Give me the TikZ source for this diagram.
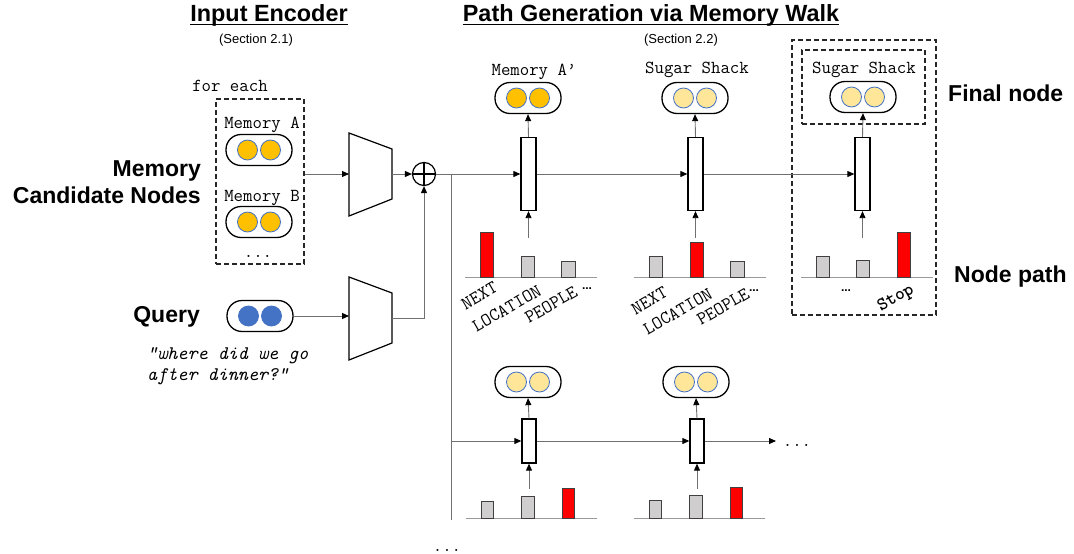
\documentclass[tikz,border=0pt]{standalone}
\usepackage{fontspec}
\setmainfont{Liberation Sans}
\newfontfamily\stopfont{lmmonolt10-bold.otf}
\usetikzlibrary{arrows.meta}
\definecolor{orng}{HTML}{FFC000}
\definecolor{lyel}{HTML}{FFE699}
\definecolor{qblue}{HTML}{4472C4}
\definecolor{linegray}{HTML}{707070}
\definecolor{bargray}{HTML}{D0CECE}
\definecolor{bardark}{HTML}{404040}
\definecolor{basegray}{HTML}{9A9A9A}
\newcommand\mkpill[4]{%
  \node[pillbox] (#1) at (#2,#3) {};
  \node[dot, fill=#4] (#1a) at ([xshift=-11.5pt]#1.center) {};
  \node[dot, fill=#4] (#1b) at ([xshift=11.5pt]#1.center) {};
}
\begin{document}
\begin{tikzpicture}[x=1pt,y=-1pt,
  conn/.style={draw=linegray, line width=0.9pt},
  arr/.style={conn, -{Triangle[length=7pt,width=6pt,color=black]}},
  cell/.style={draw=black, line width=1.3pt, fill=white, minimum width=15pt, minimum height=73pt, inner sep=0pt},
  cellb/.style={cell, minimum width=14pt, minimum height=44pt},
  pillbox/.style={draw=black, line width=1.3pt, rounded corners=15pt, minimum width=66pt, minimum height=31pt, inner sep=0pt, fill=white},
  dot/.style={circle, draw=qblue, line width=0.8pt, minimum size=20pt, inner sep=0pt},
  bigbold/.style={font=\fontsize{23}{27}\selectfont\bfseries, inner sep=0pt},
  titlef/.style={font=\fontsize{23.4}{27}\selectfont\bfseries, inner sep=0pt, anchor=base},
  secf/.style={font=\fontsize{13}{15}\selectfont, inner sep=0pt},
  mono/.style={font=\ttfamily\fontsize{18.3}{21}\selectfont, inner sep=0pt},
  rotlab/.style={font=\ttfamily\fontsize{18.5}{21}\selectfont, inner sep=0pt, rotate=30, anchor=north east},
  smalldots/.style={font=\fontsize{12}{14}\selectfont\bfseries, inner sep=0pt},
  barg/.style={draw=bardark, line width=1pt, fill=bargray},
  barr/.style={draw=bardark, line width=1pt, fill=red},
  baseln/.style={draw=basegray, line width=1pt},
  dbox/.style={draw=black!85, line width=1.1pt, dash pattern=on 5pt off 3pt},
  encoder/.style={draw=black, line width=1.2pt, fill=white}
]
\useasboundingbox (0,0) rectangle (1074,554);

% ---------- titles ----------
\node[titlef] (t1) at (269,21.5) {Input Encoder};
\draw[line width=1.8pt] ([yshift=-3pt]t1.base west) -- ([yshift=-3pt]t1.base east);
\node[secf] (s1) at (256,40) {(Section 2.1)};
\node[titlef] (t2) at (651,21.5) {Path Generation via Memory Walk};
\draw[line width=1.8pt] ([yshift=-3pt]t2.base west) -- ([yshift=-3pt]t2.base east);
\node[secf] (s2) at (681,40) {(Section 2.2)};

% ---------- left labels ----------
\node[bigbold, anchor=base east] (lm1) at (201,176) {Memory};
\node[bigbold, anchor=base east] (lm2) at (201,203) {Candidate Nodes};
\node[bigbold, anchor=base east] (lq) at (200,322) {Query};
\node[bigbold, anchor=base west] (lf) at (948,101) {Final node};
\node[bigbold, anchor=base west] (lnp) at (954,282) {Node path};

% ---------- memory candidates ----------
\node[mono, anchor=base] (fe) at (230,91.5) {for each};
\node[dbox, minimum width=88pt, minimum height=165pt, inner sep=0pt] (cand) at (260,181.5) {};
\node[mono, anchor=base] (lma) at (262,128) {Memory A};
\mkpill{mema}{259}{150}{orng}
\node[mono, anchor=base] (lmb) at (262,201.5) {Memory B};
\mkpill{memb}{259}{222}{orng}
\node[mono, anchor=base] (cdots) at (258,257) {...};

% ---------- query ----------
\mkpill{qry}{260}{316}{qblue}
\node[font=\ttfamily\itshape\fontsize{19.2}{21}\selectfont, inner sep=0pt, anchor=base west] (qt1) at (147,359) {“where did we go};
\node[font=\ttfamily\itshape\fontsize{19.2}{21}\selectfont, inner sep=0pt, anchor=base west] (qt2) at (147,380) {after dinner?”};

% ---------- encoders ----------
\draw[encoder] (349,133) -- (392,149) -- (392,199) -- (349,216) -- cycle;
\draw[encoder] (349,277) -- (392,293) -- (392,343) -- (349,360) -- cycle;
\coordinate (enc1in) at (349,174);
\coordinate (enc1out) at (392,174);
\coordinate (enc2in) at (349,316);
\coordinate (enc2out) at (392,318);
\node[circle, draw=black, line width=1.2pt, minimum size=23pt, inner sep=0pt] (op) at (424,174) {};
\draw[line width=1.2pt] (op.north) -- (op.south) (op.west) -- (op.east);

\draw[arr] (cand.east |- enc1in) -- (enc1in);
\draw[arr] (enc1out) -- (op.west);
\draw[arr] (qry.east |- enc2in) -- (enc2in);
\draw[arr] (enc2out) -| (op.south);

% ---------- top row ----------
\node[cell] (c1) at (528.5,174) {};
\node[cell] (c2) at (695.5,174) {};
\node[cell] (c3) at (862.5,174) {};
\mkpill{p1}{528}{98}{orng}
\mkpill{p2}{695}{98}{lyel}
\mkpill{p3}{863}{97}{lyel}
\node[mono, anchor=base] (lp1) at (534,75) {Memory A’};
\node[mono, anchor=base] (lp2) at (697,73) {Sugar Shack};
\node[mono, anchor=base] (lp3) at (864,73) {Sugar Shack};
\node[dbox, minimum width=123pt, minimum height=74pt, inner sep=0pt] (fbox) at (863.5,87) {};
\node[dbox, minimum width=144pt, minimum height=275pt, inner sep=0pt] (pbox) at (864,177.5) {};

\draw[arr] (op.east) -- (c1.west);
\draw[arr] (c1.east) -- (c2.west);
\draw[arr] (c2.east) -- (c3.west);
\draw[arr] (c1.north) -- (p1.south);
\draw[arr] (c2.north) -- (p2.south);
\draw[arr] (c3.north) -- (p3.south);

\coordinate (a1) at (528.5,238);
\coordinate (a2) at (695.5,238);
\coordinate (a3) at (862.5,238);
\draw[arr] (a1) -- (c1.south);
\draw[arr] (a2) -- (c2.south);
\draw[arr] (a3) -- (c3.south);

% chart 1
\draw[baseln] (465,277) -- (597,277);
\draw[barr] (480,277) rectangle (493,232);
\draw[barg] (521,277) rectangle (534,256);
\draw[barg] (561,277) rectangle (575,261);
\node[rotlab] (n1a) at (493,281) {NEXT};
\node[rotlab] (n1b) at (537,284) {LOCATION};
\node[rotlab] (n1c) at (573,285) {PEOPLE};
\node[smalldots] (n1d) at (587,289) {...};
% chart 2
\draw[baseln] (634,277) -- (766,277);
\draw[barg] (649,277) rectangle (662,256);
\draw[barr] (690,277) rectangle (703,242);
\draw[barg] (730,277) rectangle (744,261);
\node[rotlab] (n2a) at (663,286) {NEXT};
\node[rotlab] (n2b) at (708,287) {LOCATION};
\node[rotlab] (n2c) at (745,287) {PEOPLE};
\node[smalldots] (n2d) at (754,291) {...};
% chart 3
\draw[baseln] (801,277) -- (933,277);
\draw[barg] (816,277) rectangle (829,256);
\draw[barg] (856,277) rectangle (869,260);
\draw[barr] (897,277) rectangle (910,232);
\node[smalldots] (n3d) at (846,291) {...};
\node[font=\stopfont\fontsize{18.5}{21}\selectfont, inner sep=0pt, rotate=30, anchor=north east] (n3s) at (909,282) {Stop};

% ---------- branch & bottom row ----------
\coordinate (br1) at (451,174);
\coordinate (br2) at (451,520);
\coordinate (brm) at (451,441);
\draw[conn] (br1) -- (br2);
\node[cellb] (c4) at (529,441) {};
\node[cellb] (c5) at (697,441) {};
\mkpill{p4}{528}{382}{lyel}
\mkpill{p5}{696}{382}{lyel}
\draw[arr] (brm) -- (c4.west);
\draw[arr] (c4.east) -- (c5.west);
\coordinate (endb) at (776,441);
\draw[arr] (c5.east) -- (endb);
\node[mono, anchor=base] (bd1) at (797,446) {...};
\node[mono, anchor=base] (bd2) at (447,551) {...};
\draw[arr] (c4.north) -- (p4.south);
\draw[arr] (c5.north) -- (p5.south);
\coordinate (a4) at (529,489);
\coordinate (a5) at (697,489);
\draw[arr] (a4) -- (c4.south);
\draw[arr] (a5) -- (c5.south);

% chart 4
\draw[baseln] (466,518) -- (597,518);
\draw[barg] (481,518) rectangle (493,501);
\draw[barg] (521,518) rectangle (534,496);
\draw[barr] (562,518) rectangle (574,488);
% chart 5
\draw[baseln] (634,518) -- (765,518);
\draw[barg] (649,518) rectangle (661,500);
\draw[barg] (689,518) rectangle (702,495);
\draw[barr] (730,518) rectangle (742,487);
\end{tikzpicture}
\end{document}
